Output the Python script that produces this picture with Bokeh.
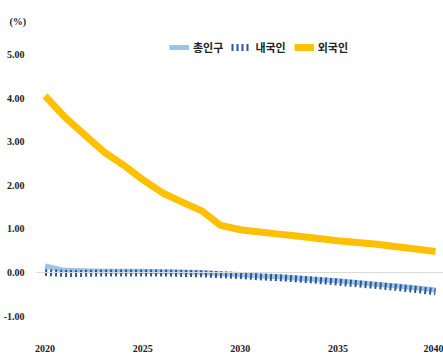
from bokeh.plotting import figure
from bokeh.models import Range1d, Legend, LegendItem, FixedTicker, Span
from bokeh.embed import file_html
from bokeh.resources import INLINE

years = list(range(2020, 2041))
total_pop = [0.15, 0.05, 0.04, 0.03, 0.03, 0.03, 0.02, 0.01, 0.00, -0.03, -0.05,
             -0.08, -0.10, -0.13, -0.16, -0.19, -0.23, -0.27, -0.31, -0.35, -0.40]
native = [0.00, -0.02, -0.02, -0.01, -0.01, -0.01, -0.01, -0.02, -0.03, -0.05, -0.07,
          -0.10, -0.12, -0.15, -0.18, -0.22, -0.26, -0.30, -0.34, -0.39, -0.44]
foreign = [4.05, 3.57, 3.17, 2.77, 2.47, 2.13, 1.83, 1.62, 1.42, 1.08, 0.98,
           0.93, 0.88, 0.83, 0.78, 0.73, 0.69, 0.65, 0.59, 0.54, 0.48]
series_names = ["총인구", "내국인", "외국인"]
y_ticks = [-1, 0, 1, 2, 3, 4, 5]
x_ticks = [2020, 2025, 2030, 2035, 2040]

W, H = 443, 358
p = figure(width=W, height=H, output_backend="svg", toolbar_location=None,
           x_range=Range1d(2019.56, 2040.41), y_range=Range1d(-1.33, 5.55),
           min_border_left=33, min_border_right=0, min_border_top=30, min_border_bottom=28)
p.outline_line_color = None
p.xgrid.visible = False
p.ygrid.visible = False
p.background_fill_color = "white"

tick_font = "Liberation Sans Narrow"
p.title.text = "(%)"
p.title.align = "left"
p.title.offset = -27
p.title.text_font = tick_font
p.title.text_font_style = "bold"
p.title.text_font_size = "10px"
p.title.text_color = "#222222"
p.title.standoff = 8

p.add_layout(Span(location=0, dimension="width", line_color="#d9d9d9", line_width=1))

r_total = p.line(years, total_pop, line_color="#9DC3E6", line_width=5)
r_native = p.line(years, native, line_color="#2B5797", line_width=7, line_dash="2 3", line_cap="butt")
r_foreign = p.line(years, foreign, line_color="#FFC000", line_width=7, line_join="round")

for ax in (p.xaxis[0], p.yaxis[0]):
    ax.axis_line_color = None
    ax.major_tick_line_color = None
    ax.minor_tick_line_color = None
    ax.major_label_text_font = tick_font
    ax.major_label_text_font_style = "bold"
    ax.major_label_text_font_size = "10px"
    ax.major_label_text_color = "#222222"
p.yaxis[0].ticker = FixedTicker(ticks=y_ticks)
p.yaxis[0].major_label_overrides = {t: f"{t:.2f}" for t in y_ticks}
p.yaxis[0].major_label_standoff = 6
p.xaxis[0].ticker = FixedTicker(ticks=x_ticks)
p.xaxis[0].major_label_standoff = 8

legend = Legend(items=[LegendItem(label=series_names[0], renderers=[r_total]),
                       LegendItem(label=series_names[1], renderers=[r_native]),
                       LegendItem(label=series_names[2], renderers=[r_foreign])],
                orientation="horizontal", location=(133, 275),
                border_line_color=None, background_fill_alpha=0,
                label_text_font="Noto Sans CJK KR", label_text_font_style="bold",
                label_text_font_size="11px", label_text_color="#222222",
                glyph_width=20, glyph_height=12, spacing=8, label_standoff=4, padding=2, margin=0)
p.add_layout(legend)

open("out.html", "w").write(file_html(p, INLINE))
